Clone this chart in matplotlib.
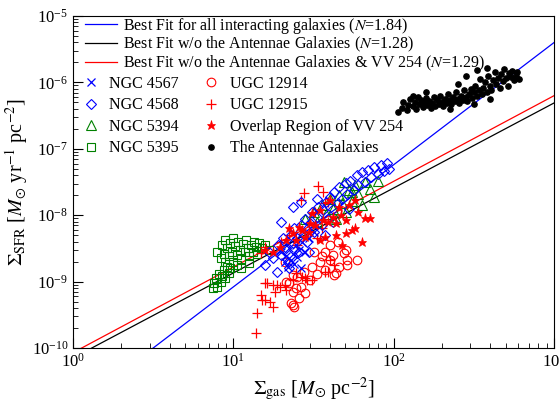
import numpy as np
import matplotlib
matplotlib.use("Agg")
import matplotlib.pyplot as plt
from matplotlib.lines import Line2D

plt.rcParams['font.family'] = ['Liberation Serif', 'DejaVu Serif']
plt.rcParams['mathtext.fontset'] = 'stix'

# ---- data (log10 values) ----
ant_lgas = [2.03,2.05,2.06,2.08,2.09,2.10,2.12,2.13,2.14,2.15,2.16,2.17,2.18,2.19,2.20,2.21,2.22,2.23,2.24,2.25,
            2.26,2.27,2.28,2.29,2.30,2.31,2.32,2.33,2.34,2.35,2.36,2.37,2.38,2.39,2.40,2.41,2.42,2.43,2.44,2.45,
            2.46,2.47,2.48,2.49,2.50,2.51,2.52,2.53,2.54,2.55,2.56,2.57,2.58,2.59,2.60,2.61,2.62,2.63,2.64,2.65,
            2.66,2.67,2.68,2.69,2.70,2.71,2.72,2.73,2.74,2.75,2.76,2.77,2.78,2.45,2.52,2.58,2.40,2.20,2.12,2.60,
            2.35,2.50]
ant_lsfr = [-6.45,-6.38,-6.30,-6.42,-6.34,-6.25,-6.36,-6.29,-6.40,-6.22,-6.33,-6.27,-6.37,-6.30,-6.24,-6.34,-6.28,-6.39,-6.31,-6.22,
            -6.35,-6.27,-6.32,-6.20,-6.29,-6.36,-6.25,-6.31,-6.18,-6.27,-6.33,-6.22,-6.28,-6.15,-6.25,-6.31,-6.20,-6.26,-6.12,-6.22,
            -6.28,-6.17,-6.10,-6.24,-6.15,-6.05,-6.20,-6.12,-5.95,-6.18,-6.08,-6.00,-6.14,-5.90,-6.05,-6.12,-5.97,-5.85,-6.02,-5.93,
            -6.08,-5.88,-5.98,-5.80,-5.94,-6.05,-5.86,-5.92,-5.83,-5.97,-5.90,-5.85,-5.95,-5.90,-5.82,-5.78,-6.02,-6.15,-6.20,-6.25,
            -6.40,-6.33]

n5395_lgas = [0.87,0.88,0.89,0.90,0.91,0.92,0.93,0.94,0.95,0.96,0.97,
              0.90,0.92,0.93,0.94,0.95,0.96,0.97,0.98,0.99,1.00,1.00,1.01,1.02,1.03,1.04,1.05,1.06,1.07,1.08,
              1.09,1.10,1.11,1.12,1.13,1.14,1.15,1.16,1.18,1.20,1.22,0.98,1.02,0.95,1.05,1.10]
n5395_lsfr = [-9.10,-9.02,-8.95,-9.08,-8.88,-9.00,-8.92,-8.82,-8.95,-8.78,-8.87,
              -8.55,-8.65,-8.45,-8.58,-8.38,-8.50,-8.62,-8.42,-8.55,-8.35,-8.70,-8.47,-8.60,-8.40,-8.52,-8.66,-8.44,-8.56,-8.38,
              -8.50,-8.62,-8.45,-8.55,-8.40,-8.48,-8.58,-8.42,-8.50,-8.45,-8.52,-8.80,-8.75,-8.70,-8.80,-8.72]

n5394_lgas = [1.45,1.50,1.52,1.55,1.58,1.60,1.62,1.64,1.66,1.68,1.70,1.72,1.74,1.76,1.78,1.80,1.82,1.85,1.88,1.90,1.69,1.74]
n5394_lsfr = [-8.05,-7.95,-8.10,-7.85,-7.98,-7.75,-7.90,-8.05,-7.70,-7.82,-7.95,-7.62,-7.78,-7.55,-7.68,-7.85,-7.50,-7.60,-7.72,-7.48,-7.50,-7.65]

n4568_lgas = [1.20,1.22,1.25,1.27,1.28,1.30,1.31,1.33,1.34,1.36,1.37,1.38,1.40,1.41,1.42,1.44,1.45,1.46,1.48,1.49,
              1.50,1.52,1.53,1.55,1.56,1.58,1.59,1.60,1.62,1.63,1.65,1.66,1.68,1.70,1.71,1.73,1.75,1.77,1.78,1.80,
              1.82,1.84,1.86,1.88,1.90,1.92,1.94,1.96,1.97,1.35,1.47,1.57,1.62,1.72,1.52,1.37,1.42,1.30]
n4568_lsfr = [-8.75,-8.55,-8.65,-8.85,-8.45,-8.60,-8.35,-8.50,-8.70,-8.30,-8.42,-8.20,-8.35,-8.55,-8.15,-8.28,-8.05,-8.40,-8.12,-7.95,
              -8.25,-8.02,-7.88,-8.15,-7.92,-7.80,-8.05,-7.72,-7.90,-7.65,-7.82,-7.58,-7.75,-7.52,-7.68,-7.48,-7.62,-7.40,-7.55,-7.35,
              -7.50,-7.32,-7.42,-7.28,-7.38,-7.24,-7.34,-7.22,-7.30,-8.80,-8.55,-8.30,-8.10,-7.90,-7.75,-7.88,-7.80,-8.10]

n4567_lgas = [1.30,1.32,1.33,1.34,1.35,1.36,1.37,1.38,1.39,1.40,1.41,1.43,1.45,1.47,1.50,1.42]
n4567_lsfr = [-8.55,-8.70,-8.62,-8.78,-8.50,-8.68,-8.58,-8.74,-8.45,-8.63,-8.52,-8.40,-8.55,-8.35,-8.25,-8.80]

u12914_lgas = [1.32,1.33,1.35,1.36,1.37,1.37,1.37,1.38,1.40,1.41,1.42,1.45,1.48,1.49,1.54,1.55,1.57,1.57,1.60,1.62,
               1.63,1.64,1.66,1.69,1.70,1.71,1.71,1.77,1.44,1.50,1.39,1.52,1.60,1.65]
u12914_lsfr = [-8.70,-9.00,-9.02,-9.32,-9.16,-9.35,-8.90,-9.38,-8.93,-9.25,-9.08,-9.17,-8.98,-8.78,-8.70,-8.62,-8.55,-8.83,-8.67,-8.60,
               -8.90,-8.87,-8.78,-8.57,-8.52,-8.75,-8.68,-8.67,-8.85,-8.55,-9.10,-8.88,-8.45,-8.40]

u12915_lgas = [1.14,1.15,1.17,1.18,1.20,1.20,1.21,1.23,1.25,1.25,1.26,1.27,1.29,1.32,1.33,1.37,1.39,1.43,1.45,1.46,
               1.49,1.57,1.59,1.60,1.63,1.20,1.17,1.42,1.44,1.51,1.53,1.56,1.57,1.59,1.30,1.35,1.40,1.48,1.52,1.55]
u12915_lsfr = [-9.78,-9.47,-9.20,-9.28,-9.02,-8.48,-9.02,-9.31,-9.05,-9.38,-9.16,-9.05,-9.08,-9.05,-9.13,-8.98,-8.87,-8.93,-8.95,-8.98,
               -8.98,-8.86,-8.86,-8.67,-8.75,-9.28,-8.57,-7.77,-7.67,-7.95,-7.56,-7.65,-7.82,-7.80,-8.40,-8.30,-8.45,-8.25,-8.35,-8.20]

vv254_lgas = [1.20,1.25,1.29,1.33,1.37,1.39,1.41,1.45,1.48,1.49,1.54,1.54,1.56,1.57,1.60,1.62,1.64,1.64,1.66,1.70,
              1.70,1.72,1.74,1.76,1.76,1.78,1.82,1.85,1.43,1.47,1.51,1.59,1.67,1.80,1.35,1.68]
vv254_lsfr = [-8.52,-8.55,-8.48,-8.37,-8.27,-8.37,-8.18,-8.33,-8.12,-7.97,-7.92,-8.37,-8.07,-8.33,-7.77,-8.03,-8.30,-8.12,-7.88,-8.27,
              -8.07,-7.85,-8.22,-8.19,-7.77,-7.95,-8.04,-8.04,-8.22,-8.25,-8.15,-8.10,-8.00,-8.40,-8.20,-8.45]

fit_slopes = [1.84, 1.28, 1.29]
fit_intercepts = [-10.92, -10.15, -10.07]   # log10 SFR at gas = 1
fit_colors = ['blue', 'black', 'red']
fit_labels = ['Best Fit for all interacting galaxies ($N$=1.84)',
              'Best Fit w/o the Antennae Galaxies ($N$=1.28)',
              'Best Fit w/o the Antennae Galaxies & VV 254 ($N$=1.29)']

fig = plt.figure(figsize=(5.59, 4.04), dpi=100)
ax = fig.add_axes([0.1306, 0.1386, 0.8605, 0.8218])
ax.set_xscale('log')
ax.set_yscale('log')

lx = np.linspace(0, 3, 50)
line_handles = []
for s, b, c, lab in zip(fit_slopes, fit_intercepts, fit_colors, fit_labels):
    h, = ax.plot(10**lx, 10**(b + s*lx), color=c, lw=0.9, label=lab)
    line_handles.append(h)

def pts(lg, ls):
    return 10**np.array(lg), 10**np.array(ls)

ms = 6.2
sty = {
    'n4567': dict(marker='x', color='blue', ms=ms, mew=0.9),
    'n4568': dict(marker='D', mfc='none', mec='blue', ms=ms-0.6, mew=0.8),
    'n5394': dict(marker='^', mfc='none', mec='green', ms=ms+0.4, mew=0.8),
    'n5395': dict(marker='s', mfc='none', mec='green', ms=ms, mew=0.8),
    'u12914': dict(marker='o', mfc='none', mec='red', ms=ms, mew=0.8),
    'u12915': dict(marker='+', color='red', ms=ms+0.8, mew=0.9),
    'vv254': dict(marker='*', color='red', ms=ms+0.6, mew=0.5),
    'ant': dict(marker='o', color='black', ms=3.8),
}

for key, lg, ls in [('n5395', n5395_lgas, n5395_lsfr), ('n5394', n5394_lgas, n5394_lsfr),
                    ('u12914', u12914_lgas, u12914_lsfr), ('u12915', u12915_lgas, u12915_lsfr),
                    ('n4568', n4568_lgas, n4568_lsfr), ('n4567', n4567_lgas, n4567_lsfr),
                    ('vv254', vv254_lgas, vv254_lsfr), ('ant', ant_lgas, ant_lsfr)]:
    x, y = pts(lg, ls)
    ax.plot(x, y, ls='none', **sty[key])

ax.set_xlim(1, 1000)
ax.set_ylim(1e-10, 1e-5)
ax.tick_params(which='both', direction='in', top=False, right=False, labelsize=12)
ax.tick_params(which='major', length=7)
ax.tick_params(which='minor', length=3.5)
ax.set_xlabel(r'$\Sigma_{\rm gas}$ [$M_{\odot}$ pc$^{-2}$]', fontsize=14.5, labelpad=3)
ax.set_ylabel(r'$\Sigma_{\rm SFR}$ [$M_{\odot}$ yr$^{-1}$ pc$^{-2}$]', fontsize=14.5, labelpad=1)

fs = 11.5
row_y = [0.971, 0.914, 0.856]
for h, yy in zip(line_handles, row_y):
    lg_ = ax.legend(handles=[h], loc='center left', frameon=False, fontsize=fs,
                    handlelength=2.0, handletextpad=0.375, borderaxespad=0.0, borderpad=0.1,
                    bbox_to_anchor=(0.0216, yy))
    ax.add_artist(lg_)

labels = ['NGC 4567', 'NGC 4568', 'NGC 5394', 'NGC 5395',
          'UGC 12914', 'UGC 12915', 'Overlap Region of VV 254', 'The Antennae Galaxies']
keys = ['n4567', 'n4568', 'n5394', 'n5395', 'u12914', 'u12915', 'vv254', 'ant']
mh = [Line2D([], [], ls='none', label=l, **sty[k]) for k, l in zip(keys, labels)]
leg2 = ax.legend(handles=mh, loc='upper left', frameon=False, fontsize=fs, ncol=2,
                 handlelength=1.2, handletextpad=0.56, columnspacing=1.42, labelspacing=0.35,
                 borderaxespad=0.0, borderpad=0.1, bbox_to_anchor=(0.0135, 0.8253))

fig.savefig('out.png', dpi=100)
